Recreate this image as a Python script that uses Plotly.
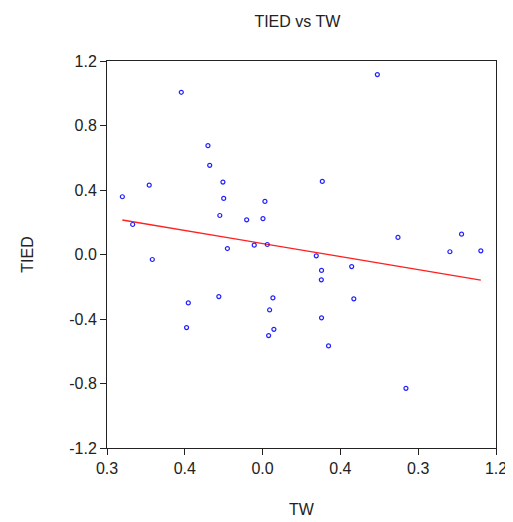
import numpy as np
import plotly.graph_objects as go

tw = [-0.418, -0.281, -0.272, -0.204, -0.583, -0.721, -0.200, 0.012, -0.220, -0.082,
      0.002, -0.668, -0.181, -0.043, 0.024, 0.590, 0.307, 0.696, 1.023, 0.963,
      1.122, -0.567, -0.225, 0.053, -0.382, 0.036, -0.391, 0.058, 0.031, 0.276,
      0.303, 0.458, 0.302, 0.469, 0.303, 0.339, 0.737]
tied = [1.006, 0.675, 0.553, 0.449, 0.430, 0.358, 0.348, 0.329, 0.242, 0.215,
        0.222, 0.186, 0.037, 0.058, 0.062, 1.116, 0.453, 0.106, 0.126, 0.017,
        0.023, -0.031, -0.261, -0.269, -0.300, -0.344, -0.453, -0.464, -0.503, -0.008,
        -0.099, -0.075, -0.157, -0.275, -0.393, -0.567, -0.830]

x_tickvals = [-0.8, -0.4, 0.0, 0.4, 0.8, 1.2]
x_ticktext = ["0.3", "0.4", "0.0", "0.4", "0.3", "1.2"]
y_tickvals = [-1.2, -0.8, -0.4, 0.0, 0.4, 0.8, 1.2]
y_ticktext = ["-1.2", "-0.8", "-0.4", "0.0", "0.4", "0.8", "1.2"]

slope, intercept = np.polyfit(tw, tied, 1)
x_fit = np.array([min(tw), max(tw)])
y_fit = slope * x_fit + intercept

fig = go.Figure()
fig.add_trace(go.Scatter(x=x_fit, y=y_fit, mode="lines",
                         line=dict(color="#ff2020", width=1.3), hoverinfo="skip"))
fig.add_trace(go.Scatter(x=tw, y=tied, mode="markers",
                         marker=dict(symbol="circle-open", size=4, color="#2020ff",
                                     line=dict(width=1.2, color="#2020ff"))))

fam = "Liberation Sans, Arial, sans-serif"
fig.update_layout(
    width=505, height=514,
    margin=dict(l=99, r=17, t=53, b=74, autoexpand=False),
    paper_bgcolor="white", plot_bgcolor="white",
    showlegend=False,
    font=dict(family=fam, size=16, color="#222"),
    title=dict(text="TIED vs TW", x=0.573, xanchor="center", y=0.973, yanchor="middle",
               font=dict(family=fam, size=16, color="#222")),
    xaxis=dict(range=[-0.8, 1.2], tickvals=x_tickvals, ticktext=x_ticktext,
               showgrid=False, zeroline=False, showline=True, linecolor="#222",
               linewidth=1, mirror=True, ticks="outside", ticklen=6, tickcolor="#222",
               automargin=False, tickfont=dict(size=16),
               title=dict(text="TW", standoff=27, font=dict(size=16))),
    yaxis=dict(range=[-1.2, 1.2], tickvals=y_tickvals, ticktext=y_ticktext,
               showgrid=False, zeroline=False, showline=True, linecolor="#222",
               linewidth=1, mirror=True, ticks="outside", ticklen=6, tickcolor="#222",
               automargin=False, tickfont=dict(size=16),
               title=dict(text="TIED", standoff=31, font=dict(size=16))),
)
fig.write_html("out.html")
